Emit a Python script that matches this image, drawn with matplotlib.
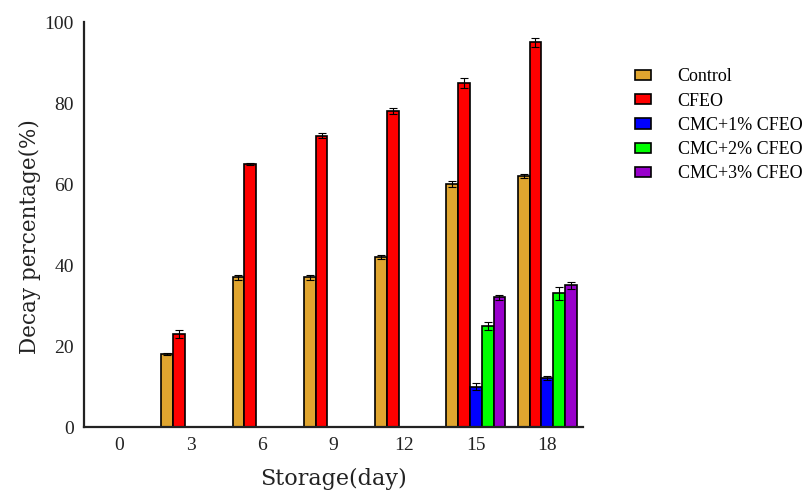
import numpy as np
import matplotlib.pyplot as plt

plt.rcParams['font.family'] = ['Liberation Serif', 'DejaVu Serif']

days = ['0', '3', '6', '9', '12', '15', '18']
groups = ['Control', 'CFEO', 'CMC+1% CFEO', 'CMC+2% CFEO', 'CMC+3% CFEO']
colors = ['#E0A52F', '#FF0000', '#0000FF', '#00FF00', '#9900CC']

control = [0, 18, 37, 37, 42, 60, 62]
cfeo = [0, 23, 65, 72, 78, 85, 95]
cmc1 = [0, 0, 0, 0, 0, 10, 12]
cmc2 = [0, 0, 0, 0, 0, 25, 33]
cmc3 = [0, 0, 0, 0, 0, 32, 35]

control_err = [0, 0.3, 0.6, 0.6, 0.6, 0.8, 0.5]
cfeo_err = [0, 1.0, 0.3, 0.6, 0.8, 1.3, 1.2]
cmc1_err = [0, 0, 0, 0, 0, 0.8, 0.5]
cmc2_err = [0, 0, 0, 0, 0, 1.0, 1.5]
cmc3_err = [0, 0, 0, 0, 0, 0.7, 0.8]

values = [control, cfeo, cmc1, cmc2, cmc3]
errors = [control_err, cfeo_err, cmc1_err, cmc2_err, cmc3_err]

fig = plt.figure(figsize=(8.05, 4.92), dpi=100)
ax = fig.add_axes([0.104, 0.132, 0.62, 0.823])

x = np.arange(len(days))
w = 0.165
for i, (vals, errs) in enumerate(zip(values, errors)):
    vals = np.array(vals, dtype=float)
    errs = np.array(errs, dtype=float)
    pos = x + (i - 2) * w
    mask = vals > 0
    ax.bar(pos[mask], vals[mask], w, color=colors[i], edgecolor='black',
           linewidth=1.2, label=groups[i])
    ax.errorbar(pos[mask], vals[mask], yerr=errs[mask], fmt='none',
                ecolor='black', elinewidth=0.8, capsize=3, capthick=0.8)

ax.set_xlim(-0.5, 6.5)
ax.set_ylim(0, 100)
ax.set_xticks(x)
ax.set_xticklabels(days)
ax.set_yticks([0, 20, 40, 60, 80, 100])
ax.tick_params(length=0, labelsize=14, pad=7, colors='#222222')
ax.spines['top'].set_visible(False)
ax.spines['right'].set_visible(False)
for s in ['left', 'bottom']:
    ax.spines[s].set_linewidth(1.6)
    ax.spines[s].set_color('#222222')

ax.set_xlabel('Storage(day)', fontsize=16, family='DejaVu Serif',
              labelpad=10, color='#222222')
ax.set_ylabel('Decay percentage(%)', fontsize=15.5, family='DejaVu Serif',
              color='#222222')
ax.yaxis.set_label_coords(-0.085, 0.47)

fig.legend(loc='upper left', bbox_to_anchor=(0.769, 0.894), frameon=False,
           fontsize=13, handlelength=0.85, handleheight=0.5,
           handletextpad=1.5, labelspacing=0.4)

fig.savefig('out.png', dpi=100)
